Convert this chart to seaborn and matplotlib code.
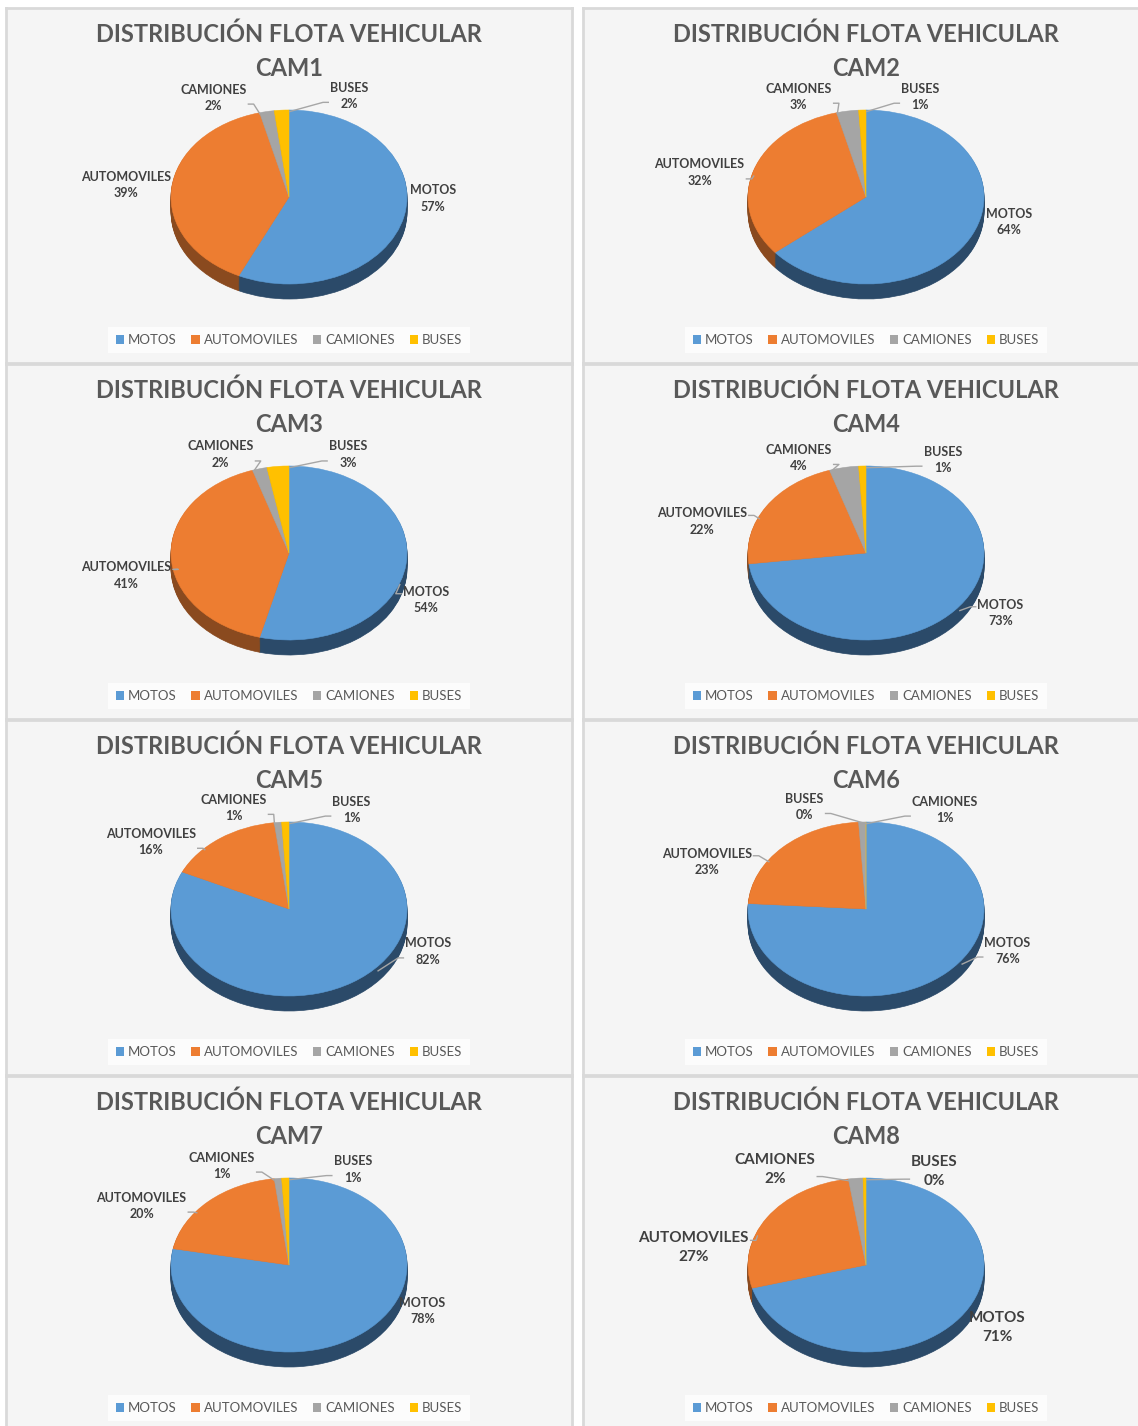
import matplotlib
matplotlib.use("Agg")
import matplotlib.pyplot as plt
import seaborn as sns
import numpy as np
from matplotlib.patches import Patch

sns.set_theme(style="white")
plt.rcParams["font.family"] = ["Lato", "DejaVu Sans"]

# Data (percent of fleet per camera)
categories = ["MOTOS", "AUTOMOVILES", "CAMIONES", "BUSES"]
cams = ["CAM1", "CAM2", "CAM3", "CAM4", "CAM5", "CAM6", "CAM7", "CAM8"]
cam1 = [57, 39, 2, 2]
cam2 = [64, 32, 3, 1]
cam3 = [54, 41, 2, 3]
cam4 = [73, 22, 4, 1]
cam5 = [82, 16, 1, 1]
cam6 = [76, 23, 1, 0]
cam7 = [78, 20, 1, 1]
cam8 = [71, 27, 2, 0.4]
values = [cam1, cam2, cam3, cam4, cam5, cam6, cam7, cam8]

# Layout: label centres in pie-radius units (MOTOS, AUTOMOVILES, CAMIONES, BUSES)
label_pos = [
    [(1.22, -0.02), (-1.38, 0.14), (-0.64, 1.14), (0.51, 1.16)],
    [(1.21, -0.29), (-1.41, 0.28), (-0.57, 1.15), (0.46, 1.15)],
    [(1.16, -0.54), (-1.38, -0.26), (-0.58, 1.13), (0.50, 1.13)],
    [(1.14, -0.69), (-1.39, 0.36), (-0.57, 1.09), (0.65, 1.07)],
    [(1.18, -0.49), (-1.17, 0.77), (-0.47, 1.16), (0.53, 1.14)],
    [(1.20, -0.48), (-1.35, 0.54), (0.67, 1.14), (-0.52, 1.17)],
    [(1.13, -0.53), (-1.25, 0.68), (-0.57, 1.14), (0.54, 1.10)],
    [(1.11, -0.72), (-1.46, 0.20), (-0.77, 1.10), (0.58, 1.07)],
]
leader = [
    [False, False, True, True],
    [False, True, True, True],
    [True, True, True, True],
    [True, True, True, True],
    [True, True, True, True],
    [True, True, True, True],
    [False, True, True, True],
    [False, True, True, True],
]
label_size = [9, 9, 9, 9, 9, 9, 9, 11]

top_colors = sns.color_palette(["#5b9bd5", "#ed7d31", "#a5a5a5", "#ffc000"])
side_colors = ["#2b4a69", "#8a4a1f", "#6b6b6b", "#9c7a00"]

FW, FH = 1138, 1426
W, H = 566, 355
RX, RY, DEPTH = 118, 87, 15
CX, CY = 283, 189
panel_x = [6, 583]
panel_y = [8, 364, 720, 1076]

fig = plt.figure(figsize=(FW / 100, FH / 100), dpi=100)
fig.patch.set_facecolor("white")

panels = []
for i, (name, vals) in enumerate(zip(cams, values)):
    col, row = i % 2, i // 2
    x0, y0 = panel_x[col], panel_y[row]
    ax = fig.add_axes([x0 / FW, 1 - (y0 + H) / FH, W / FW, H / FH])

    # side of the 3D pie: stacked darker copies
    steps = 16
    for k in range(steps, 0, -1):
        wedges, _ = ax.pie(vals, colors=side_colors, startangle=90, counterclock=False,
                           center=(0, -DEPTH / RY * k / steps), frame=True)
        for w in wedges:
            w.set_edgecolor(w.get_facecolor())
            w.set_linewidth(0.5)
    wedges, _ = ax.pie(vals, colors=top_colors, startangle=90, counterclock=False,
                       center=(0, 0), frame=True)
    for w in wedges:
        w.set_edgecolor(w.get_facecolor())
        w.set_linewidth(0.4)

    ax.set_aspect("auto")
    ax.set_xlim(-CX / RX, (W - CX) / RX)
    ax.set_ylim(-(H - CY) / RY, CY / RY)
    ax.set_xticks([])
    ax.set_yticks([])
    ax.set_facecolor("#f5f5f5")
    for s in ax.spines.values():
        s.set_color("#d9d9d9")
        s.set_linewidth(2)

    ax.text(0.5, 1 - 26 / H, "DISTRIBUCIÓN FLOTA VEHICULAR", transform=ax.transAxes,
            ha="center", va="center", fontsize=17, fontweight="bold", color="#595959")
    ax.text(0.5, 1 - 60 / H, name, transform=ax.transAxes,
            ha="center", va="center", fontsize=17, fontweight="bold", color="#595959")

    total = sum(vals)
    texts = []
    for j, (cat, v) in enumerate(zip(categories, vals)):
        lx, ly = label_pos[i][j]
        t = ax.text(lx, ly, f"{cat}\n{v / total * 100:.0f}%", ha="center", va="center",
                    fontsize=label_size[i], fontweight="bold", color="#404040",
                    linespacing=1.45, zorder=5)
        texts.append(t)

    handles = [Patch(facecolor=c, edgecolor="none", label=cat)
               for c, cat in zip(top_colors, categories)]
    leg = ax.legend(handles=handles, loc="center", bbox_to_anchor=(0.5, 1 - 332 / H),
                    ncol=4, frameon=True, fontsize=9.5, handlelength=0.65, handleheight=0.65,
                    handletextpad=0.3, columnspacing=1.1, borderpad=0.55, labelcolor="#595959")
    leg.get_frame().set_facecolor("white")
    leg.get_frame().set_linewidth(0)
    leg.get_frame().set_boxstyle("square", pad=0)

    panels.append((ax, vals, texts))

# leader lines
fig.canvas.draw()
renderer = fig.canvas.get_renderer()
for i, (ax, vals, texts) in enumerate(panels):
    inv = ax.transData.inverted()
    total = sum(vals)
    cum = np.cumsum([0] + list(vals))
    for j, t in enumerate(texts):
        if not leader[i][j]:
            continue
        a0 = 90 - 360 * cum[j] / total
        a1 = 90 - 360 * cum[j + 1] / total
        mid = (a0 + a1) / 2
        lx, ly0 = label_pos[i][j]
        toward = np.rad2deg(np.arctan2(ly0, lx))
        # keep the angle within the slice, pulled toward the label
        diff = (toward - mid + 180) % 360 - 180
        half = abs(a1 - a0) / 2
        th = np.deg2rad(mid + np.clip(diff * 0.5, -half, half))
        px, py = np.cos(th), np.sin(th)
        if py < 0:
            py -= 0.5 * DEPTH / RY
        bb = t.get_window_extent(renderer)
        (bx0, by0), (bx1, by1) = inv.transform([[bb.x0, bb.y0], [bb.x1, bb.y1]])
        ly = by1 - (by1 - by0) * 0.28 if py > (by0 + by1) / 2 else by0 + (by1 - by0) * 0.28
        if px > (bx0 + bx1) / 2:
            sx = bx1 + 1 / RX
            ex = sx + 6 / RX
        else:
            sx = bx0 - 1 / RX
            ex = sx - 6 / RX
        ax.plot([sx, ex, px * 0.98], [ly, ly, py * 0.98], color="#a6a6a6", lw=1, zorder=4,
                solid_capstyle="butt")

fig.savefig("out.png", dpi=100)
